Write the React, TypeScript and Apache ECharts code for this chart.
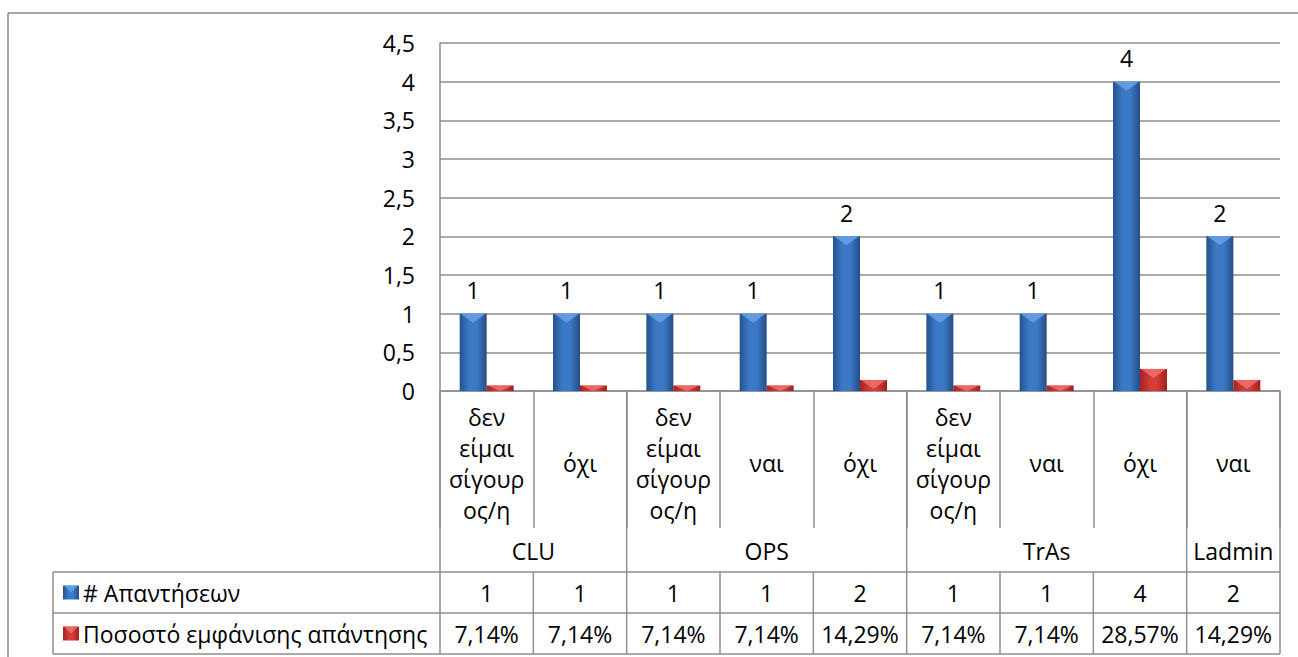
import React, { useEffect, useRef } from "react";
import * as echarts from "echarts";

// Answers per response option, grouped by unit
const categories = [
  "δεν είμαι σίγουρος/η",
  "όχι",
  "δεν είμαι σίγουρος/η",
  "ναι",
  "όχι",
  "δεν είμαι σίγουρος/η",
  "ναι",
  "όχι",
  "ναι",
];
const groupNames = ["CLU", "OPS", "TrAs", "Ladmin"];
const groupSizes = [2, 3, 3, 1];
const seriesNames = ["# Απαντήσεων", "Ποσοστό εμφάνισης απάντησης"];
const answerCounts = [1, 1, 1, 1, 2, 1, 1, 4, 2];
const answerShares = [0.0714, 0.0714, 0.0714, 0.0714, 0.1429, 0.0714, 0.0714, 0.2857, 0.1429];
const yTicks = { min: 0, max: 4.5, interval: 0.5 };

const FONT = "'Open Sans', 'Noto Sans', sans-serif";
const FS = 23;
const GRID_COLOR = "#8e8e8e";
const TEXT = "#000000";

const BLUE = {
  body: new echarts.graphic.LinearGradient(0, 0, 1, 0, [
    { offset: 0, color: "#25528c" },
    { offset: 0.35, color: "#3b78c6" },
    { offset: 0.65, color: "#3b78c6" },
    { offset: 1, color: "#234d85" },
  ]),
  cap: "#6aa6e6",
};
const RED = {
  body: new echarts.graphic.LinearGradient(0, 0, 1, 0, [
    { offset: 0, color: "#a42322" },
    { offset: 0.4, color: "#d83c38" },
    { offset: 0.6, color: "#d83c38" },
    { offset: 1, color: "#a22120" },
  ]),
  cap: "#ef7470",
};

const fmtNum = (v: number) => String(v).replace(".", ",");
const fmtPct = (v: number) => (v * 100).toFixed(2).replace(".", ",") + "%";

// Wrap a label into a narrow column: words on their own lines, long words split every 6 letters
function wrapLabel(s: string): string {
  const lines: string[] = [];
  s.split(" ").forEach((w) => {
    const chars = Array.from(w);
    for (let i = 0; i < chars.length; i += 6) lines.push(chars.slice(i, i + 6).join(""));
  });
  return lines.join("\n");
}

const BAR_W = 27;

function capSeries(name: string, values: number[], offset: number, color: string) {
  return {
    type: "custom",
    name,
    z: 5,
    silent: true,
    data: values.map((v, i) => [i, v]),
    renderItem: (params: any, api: any) => {
      const top = api.coord([api.value(0), api.value(1)]);
      const base = api.coord([api.value(0), 0]);
      const l = top[0] + offset;
      const r = l + BAR_W;
      const depth = Math.min(9, base[1] - top[1]);
      return {
        type: "polygon",
        shape: { points: [[l + 1, top[1]], [r - 1, top[1]], [(l + r) / 2, top[1] + depth]] },
        style: { fill: color, opacity: 0.8 },
      };
    },
  };
}

export default function App() {
  const ref = useRef<HTMLDivElement>(null);

  useEffect(() => {
    const chart = echarts.init(ref.current!, undefined, { renderer: "svg" });
    chart.setOption({
      animation: false,
      grid: { left: 440, right: 18, top: 43, bottom: 266, containLabel: false },
      xAxis: {
        type: "category",
        data: categories,
        axisLine: { show: true, lineStyle: { color: GRID_COLOR, width: 1.5 } },
        axisTick: { show: true, interval: 0, length: 137, lineStyle: { color: GRID_COLOR, width: 1.5 } },
        axisLabel: {
          interval: 0,
          margin: 72,
          verticalAlign: "middle",
          align: "center",
          lineHeight: 31,
          fontSize: FS,
          fontFamily: FONT,
          color: TEXT,
          formatter: (v: string) => wrapLabel(v),
        },
      },
      yAxis: {
        type: "value",
        min: yTicks.min,
        max: yTicks.max,
        interval: yTicks.interval,
        axisLine: { show: true, lineStyle: { color: GRID_COLOR, width: 1.5 } },
        axisTick: { show: false },
        splitLine: { show: true, lineStyle: { color: GRID_COLOR, width: 1.5 } },
        axisLabel: { margin: 25, fontSize: FS, fontFamily: FONT, color: TEXT, formatter: (v: number) => fmtNum(v) },
      },
      series: [
        {
          type: "bar",
          name: seriesNames[0],
          data: answerCounts,
          barWidth: BAR_W,
          barGap: "0%",
          itemStyle: { color: BLUE.body },
          label: { show: true, position: "top", distance: 10, lineHeight: 27, fontSize: FS, fontFamily: FONT, color: TEXT },
        },
        {
          type: "bar",
          name: seriesNames[1],
          data: answerShares,
          barWidth: BAR_W,
          barGap: "0%",
          itemStyle: { color: RED.body },
        },
        capSeries("cap-a", answerCounts, -BAR_W, BLUE.cap),
        capSeries("cap-b", answerShares, 0, RED.cap),
      ],
    });

    // Data table under the plot, positioned from the axis scales
    const cx = (i: number) => chart.convertToPixel({ xAxisIndex: 0 }, i) as number;
    const catW = cx(1) - cx(0);
    const edge = (i: number) => cx(0) - catW / 2 + i * catW;
    const y0 = chart.convertToPixel({ yAxisIndex: 0 }, 0) as number;
    const tableTop = y0 + 181;
    const rowH = 41;
    const tableBottom = tableTop + 2 * rowH;
    const headLeft = 53;
    const right = edge(categories.length);

    const line = (x1: number, y1: number, x2: number, y2: number, color = GRID_COLOR, w = 1.5) => ({
      type: "line",
      silent: true,
      shape: { x1, y1, x2, y2 },
      style: { stroke: color, lineWidth: w },
    });
    const text = (s: string, x: number, y: number, align = "center") => ({
      type: "text",
      silent: true,
      x,
      y,
      style: { text: s, fontSize: FS, fontFamily: FONT, fill: TEXT, align, verticalAlign: "middle" },
    });
    const key = (x: number, yc: number, c: { body: any; cap: string }) => ({
      type: "group",
      silent: true,
      children: [
        { type: "rect", shape: { x, y: yc - 7, width: 16, height: 14 }, style: { fill: c.body } },
        { type: "polygon", shape: { points: [[x + 1, yc - 7], [x + 15, yc - 7], [x + 8, yc]] }, style: { fill: c.cap, opacity: 0.8 } },
      ],
    });

    const g: any[] = [];
    // outer frame
    g.push(line(8, 13, 1298, 13, "#8a8a8a", 1.5));
    g.push(line(8, 13, 8, 657, "#8a8a8a", 1.5));
    // horizontal rules
    g.push(line(headLeft, tableTop, right, tableTop));
    g.push(line(headLeft, tableTop + rowH, right, tableTop + rowH));
    g.push(line(headLeft, tableBottom, right, tableBottom));
    g.push(line(headLeft, tableTop, headLeft, tableBottom));
    // vertical rules in the value rows
    for (let i = 0; i <= categories.length; i++) g.push(line(edge(i), tableTop, edge(i), tableBottom));
    // group boundaries and group names
    let start = 0;
    g.push(line(edge(0), y0, edge(0), tableTop));
    groupNames.forEach((name, k) => {
      const end = start + groupSizes[k];
      g.push(line(edge(end), y0, edge(end), tableTop));
      g.push(text(name, (edge(start) + edge(end)) / 2, y0 + 160));
      start = end;
    });
    // row headers and values
    const rows = [
      { name: seriesNames[0], vals: answerCounts.map(fmtNum), c: BLUE },
      { name: seriesNames[1], vals: answerShares.map(fmtPct), c: RED },
    ];
    rows.forEach((r, k) => {
      const yc = tableTop + rowH * k + rowH / 2;
      g.push(key(63, yc, r.c));
      g.push(text(r.name, 83, yc, "left"));
      r.vals.forEach((v, i) => g.push(text(v, cx(i), yc)));
    });
    chart.setOption({ graphic: g });

    return () => chart.dispose();
  }, []);

  return <div ref={ref} style={{ position: "fixed", left: 0, top: 0, width: 1298, height: 657, background: "#fff" }} />;
}
